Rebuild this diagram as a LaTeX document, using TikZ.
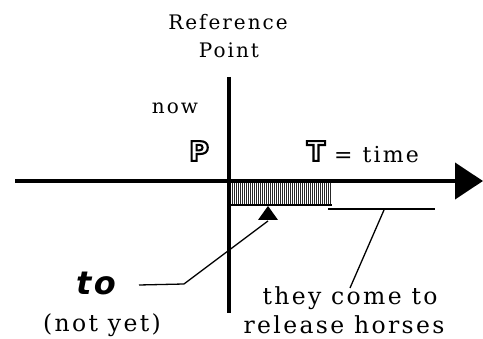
\documentclass[tikz,border=0pt]{standalone}
\usepackage{fontspec}
\setmainfont{DejaVu Serif}[LetterSpace=10]
\newfontfamily\boldsans{DejaVu Sans}
\newfontfamily\tofont{DejaVu Sans}[LetterSpace=8]
\usetikzlibrary{arrows.meta,positioning,calc}

% outlined letter
\newcommand\hollow[1]{%
  \special{pdf:literal direct 1 Tr 2.1 w}#1\special{pdf:literal direct 0 Tr}}

\begin{document}
\begin{tikzpicture}[x=1pt,y=-1pt,
  lbl/.style={inner sep=0pt,font=\fontsize{20}{24}\selectfont},
  big/.style={inner sep=0pt,font=\fontsize{23.5}{28}\selectfont},
  letter/.style={inner sep=0pt,font=\boldsans\bfseries\fontsize{27}{27}\selectfont},
  axis/.style={line width=4pt},
  leader/.style={line width=1.3pt}]
  \useasboundingbox (0,0) rectangle (483,339);
  % axes
  \coordinate (west) at (15,181);
  \coordinate (east) at (483,181);
  \coordinate (top) at (229,77);
  \coordinate (bottom) at (229,313);
  \draw[axis,-{Triangle[length=28pt,width=36pt]}] (west) -- (east);
  \draw[axis] (top) -- (bottom);
  % shaded interval and later interval
  \foreach \i in {232,234,...,330}
    \draw[line width=0.9pt,black!85] (\i,183) -- (\i,204);
  \draw[line width=2.5pt] (231,205) -- (332,205);
  \draw[line width=2.5pt] (328,209) -- (435,209);
  % marker
  \fill (268,206) -- (278,220) -- (258,220) -- cycle;
  \coordinate (mark) at (268,221);
  \coordinate (bend) at (184,284);
  \coordinate (toend) at (139,285);
  \coordinate (later) at (384,210);
  \coordinate (comeend) at (350,288);
  \draw[leader] (mark) -- (bend) -- (toend);
  \draw[leader] (later) -- (comeend);
  % labels
  \node[lbl] (ref) at (228,22) {Reference};
  \node[lbl] (point) at (229,50) {Point};
  \node[lbl] (now) at (175,108) {now};
  \node[letter] (P) at (199,151) {\hollow{P}};
  \node[letter] (T) at (316,151) {\hollow{T}};
  \node[lbl,anchor=west,font=\fontsize{22}{24}\selectfont] (time) at (334,155) {=\hspace{10pt}time};
  \node[inner sep=0pt,font=\tofont\bfseries\itshape\fontsize{32}{32}\selectfont] (to) at (96,283) {to};
  \node[big] (notyet) at (102,325) {(not yet)};
  \node[big] (come) at (350,298) {they come to};
  \node[big] (horses) at (344,325) {release horses};
\end{tikzpicture}
\end{document}
